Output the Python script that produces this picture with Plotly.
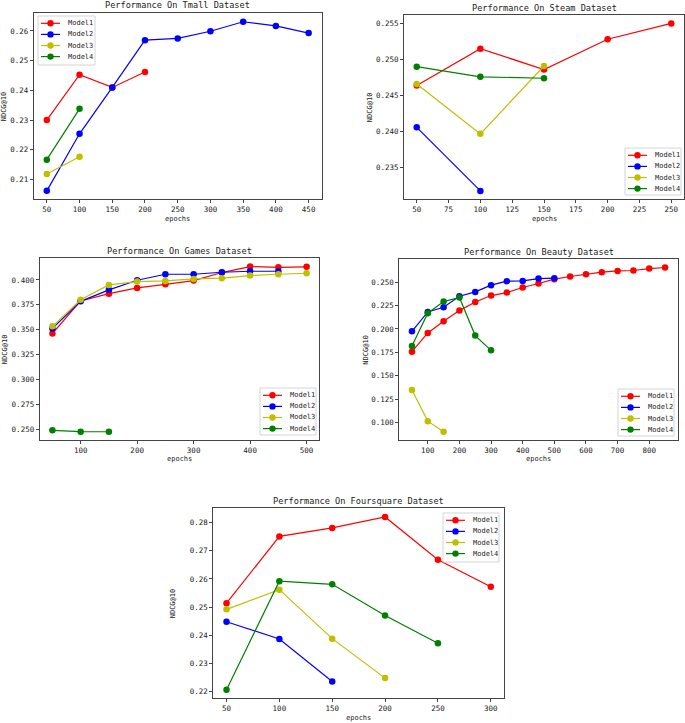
import plotly.graph_objects as go

W, H = 685, 723
FONT = "DejaVu Sans Mono"
models = ["Model1", "Model2", "Model3", "Model4"]
colors = ["#ff0000", "#0000ff", "#bfbf00", "#008000"]

# ---------------- data ----------------
tmall_epochs = [50, 100, 150, 200, 250, 300, 350, 400, 450]
tmall_model1 = [0.2300, 0.2453, 0.2410, 0.2462]
tmall_model2 = [0.2062, 0.2254, 0.2410, 0.2569, 0.2575, 0.2599, 0.2631, 0.2617, 0.2593]
tmall_model3 = [0.2119, 0.2177]
tmall_model4 = [0.2167, 0.2338]

steam_epochs = [50, 100, 150, 200, 250]
steam_model1 = [0.2464, 0.2515, 0.2486, 0.2528, 0.2550]
steam_model2 = [0.2406, 0.2318]
steam_model3 = [0.2466, 0.2397, 0.2491]
steam_model4 = [0.2490, 0.2476, 0.2474]

games_epochs = [50, 100, 150, 200, 250, 300, 350, 400, 450, 500]
games_model1 = [0.3462, 0.3789, 0.3862, 0.3920, 0.3956, 0.3993, 0.4074, 0.4134, 0.4126, 0.4131]
games_model2 = [0.3513, 0.3785, 0.3900, 0.3997, 0.4057, 0.4057, 0.4077, 0.4087, 0.4087]
games_model3 = [0.3534, 0.3800, 0.3950, 0.3983, 0.3990, 0.4010, 0.4017, 0.4044, 0.4057, 0.4067]
games_model4 = [0.2490, 0.2477, 0.2476]

beauty_epochs = [50, 100, 150, 200, 250, 300, 350, 400, 450, 500, 550, 600, 650, 700, 750, 800, 850]
beauty_model1 = [0.1757, 0.1957, 0.2082, 0.2196, 0.2289, 0.2357, 0.2389, 0.2443, 0.2486,
                 0.2532, 0.2561, 0.2586, 0.2607, 0.2621, 0.2625, 0.2646, 0.2657]
beauty_model2 = [0.1975, 0.2182, 0.2232, 0.2350, 0.2396, 0.2468, 0.2511, 0.2514, 0.2539, 0.2543]
beauty_model3 = [0.1346, 0.1014, 0.0900]
beauty_model4 = [0.1818, 0.2168, 0.2293, 0.2336, 0.1929, 0.1771]

four_epochs = [50, 100, 150, 200, 250, 300]
four_model1 = [0.2514, 0.2751, 0.2781, 0.2820, 0.2668, 0.2572]
four_model2 = [0.2448, 0.2387, 0.2236]
four_model3 = [0.2492, 0.2562, 0.2388, 0.2248]
four_model4 = [0.2207, 0.2592, 0.2581, 0.2470, 0.2372]

tmall_xticks = [50, 100, 150, 200, 250, 300, 350, 400, 450]
tmall_yticks = [0.21, 0.22, 0.23, 0.24, 0.25, 0.26]
steam_xticks = [50, 75, 100, 125, 150, 175, 200, 225, 250]
steam_yticks = [0.235, 0.240, 0.245, 0.250, 0.255]
games_xticks = [100, 200, 300, 400, 500]
games_yticks = [0.250, 0.275, 0.300, 0.325, 0.350, 0.375, 0.400]
beauty_xticks = [100, 200, 300, 400, 500, 600, 700, 800]
beauty_yticks = [0.100, 0.125, 0.150, 0.175, 0.200, 0.225, 0.250]
four_xticks = [50, 100, 150, 200, 250, 300]
four_yticks = [0.22, 0.23, 0.24, 0.25, 0.26, 0.27, 0.28]

panels = [
    dict(title="Performance On Tmall Dataset", epochs=tmall_epochs,
         series=[tmall_model1, tmall_model2, tmall_model3, tmall_model4],
         xt=tmall_xticks, yt=tmall_yticks, yfmt="%.2f",
         box=(33.7, 13.3, 321.7, 199.3), title_y=5, ylab_x=4, xlab_y=219,
         leg=(38, 16, 57, 49)),
    dict(title="Performance On Steam Dataset", epochs=steam_epochs,
         series=[steam_model1, steam_model2, steam_model3, steam_model4],
         xt=steam_xticks, yt=steam_yticks, yfmt="%.3f",
         box=(404, 15, 684, 199.3), title_y=8.5, ylab_x=370, xlab_y=219,
         leg=(625, 148, 56, 47)),
    dict(title="Performance On Games Dataset", epochs=games_epochs,
         series=[games_model1, games_model2, games_model3, games_model4],
         xt=games_xticks, yt=games_yticks, yfmt="%.3f",
         box=(39.7, 258.3, 319.3, 440), title_y=251, ylab_x=5, xlab_y=459,
         leg=(260, 388, 56, 47)),
    dict(title="Performance On Beauty Dataset", epochs=beauty_epochs,
         series=[beauty_model1, beauty_model2, beauty_model3, beauty_model4],
         xt=beauty_xticks, yt=beauty_yticks, yfmt="%.3f",
         box=(399.3, 259.3, 677.7, 440), title_y=251.5, ylab_x=366, xlab_y=459,
         leg=(618, 389, 56, 47)),
    dict(title="Performance On Foursquare Dataset", epochs=four_epochs,
         series=[four_model1, four_model2, four_model3, four_model4],
         xt=four_xticks, yt=four_yticks, yfmt="%.2f",
         box=(213.3, 508.3, 504, 698.3), title_y=501, ylab_x=173, xlab_y=718,
         leg=(443, 513, 56, 49)),
]


def fx(px):
    return px / W


def fy(py):
    return 1 - py / H


fig = go.Figure()
shapes = []
annotations = []
layout = dict(width=W, height=H, margin=dict(l=0, r=0, t=0, b=0),
              paper_bgcolor="white", plot_bgcolor="white", showlegend=False,
              font=dict(family=FONT, size=7, color="#222"))

for i, p in enumerate(panels, start=1):
    sfx = "" if i == 1 else str(i)
    xa, ya = "x" + sfx, "y" + sfx
    allx, ally = [], []
    for k, vals in enumerate(p["series"]):
        xs = p["epochs"][:len(vals)]
        allx += xs
        ally += vals
        fig.add_trace(go.Scatter(
            x=xs, y=vals, mode="lines+markers", name=models[k],
            line=dict(color=colors[k], width=1.2),
            marker=dict(color=colors[k], size=6.5),
            xaxis=xa, yaxis=ya, cliponaxis=False))
    xmin, xmax = min(allx), max(allx)
    ymin, ymax = min(ally), max(ally)
    dx, dy = 0.05 * (xmax - xmin), 0.05 * (ymax - ymin)
    x0, y0, x1, y1 = p["box"]
    common = dict(showgrid=False, zeroline=False, showline=True, mirror=True,
                  linecolor="#444", linewidth=1, ticks="outside", ticklen=3,
                  tickcolor="#444", tickwidth=1,
                  tickfont=dict(family=FONT, size=7.5, color="#222"))
    layout["xaxis" + sfx] = dict(domain=[fx(x0), fx(x1)], anchor=ya,
                                 range=[xmin - dx, xmax + dx],
                                 tickmode="array", tickvals=p["xt"],
                                 ticktext=[str(v) for v in p["xt"]], **common)
    layout["yaxis" + sfx] = dict(domain=[fy(y1), fy(y0)], anchor=xa,
                                 range=[ymin - dy, ymax + dy],
                                 tickmode="array", tickvals=p["yt"],
                                 ticktext=[p["yfmt"] % v for v in p["yt"]], **common)
    cx = (x0 + x1) / 2
    cy = (y0 + y1) / 2
    annotations.append(dict(text=p["title"], x=fx(cx), y=fy(p["title_y"]),
                            xref="paper", yref="paper", showarrow=False,
                            xanchor="center", yanchor="middle",
                            font=dict(family=FONT, size=8.6, color="#222")))
    annotations.append(dict(text="epochs", x=fx(cx), y=fy(p["xlab_y"]),
                            xref="paper", yref="paper", showarrow=False,
                            xanchor="center", yanchor="middle",
                            font=dict(family=FONT, size=7, color="#222")))
    annotations.append(dict(text="NDCG@10", x=fx(p["ylab_x"]), y=fy(cy),
                            xref="paper", yref="paper", showarrow=False,
                            textangle=-90, xanchor="center", yanchor="middle",
                            font=dict(family=FONT, size=7, color="#222")))
    # manual legend
    lx, ly, lw, lh = p["leg"]
    shapes.append(dict(type="rect", xref="paper", yref="paper",
                       x0=fx(lx), x1=fx(lx + lw), y0=fy(ly + lh), y1=fy(ly),
                       line=dict(color="#d4d4d4", width=1), fillcolor="white",
                       layer="above"))
    for k in range(4):
        ry = ly + 7.3 + k * 11.1
        shapes.append(dict(type="line", xref="paper", yref="paper",
                           x0=fx(lx + 3), x1=fx(lx + 22), y0=fy(ry), y1=fy(ry),
                           line=dict(color=colors[k], width=1.2), layer="above"))
        shapes.append(dict(type="circle", xref="paper", yref="paper",
                           xsizemode="pixel", ysizemode="pixel",
                           xanchor=fx(lx + 12.5), yanchor=fy(ry),
                           x0=-3.2, x1=3.2, y0=-3.2, y1=3.2,
                           fillcolor=colors[k], line=dict(color=colors[k], width=0),
                           layer="above"))
        annotations.append(dict(text=models[k], x=fx(lx + 27.5), y=fy(ry),
                                xref="paper", yref="paper", showarrow=False,
                                xanchor="left", yanchor="middle",
                                font=dict(family=FONT, size=7, color="#222")))

layout["shapes"] = shapes
layout["annotations"] = annotations
fig.update_layout(**layout)
fig.write_html("out.html")
